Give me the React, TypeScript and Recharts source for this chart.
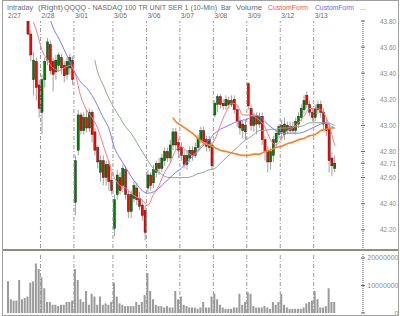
import { ComposedChart, Bar, Line, XAxis, YAxis, ReferenceLine } from 'recharts';

const W = 400;
const AXIS_X = 363;
const FONT = 'Liberation Sans, Arial, sans-serif';

// trading days and the bar index where each one starts (10-min bars, thinned)
const dayLabels = ['2/27', '2/28', '3/01', '3/05', '3/06', '3/07', '3/08', '3/09', '3/12', '3/13'];
const dayStarts = [0, 12, 24, 38, 50, 62, 74, 86, 98, 110];

// the first bars of 2/27 traded above the top of the price scale: only their volume shows
const hiddenBars = 7;

const opens = [
  43.81, 43.7, 43.35, 43.49, 43.31,
  43.1, 43.35, 43.5, 43.62, 43.49, 43.41, 43.46, 43.52, 43.46, 43.39, 43.44, 43.5,
  42.41, 42.81, 43.08, 42.96, 43.06, 42.98, 43.1, 42.95, 42.83, 42.64, 42.73, 42.6, 42.7, 42.58,
  42.21, 42.47, 42.6, 42.54, 42.66, 42.47, 42.34, 42.44, 42.52, 42.44, 42.39, 42.35,
  42.52, 42.62, 42.56, 42.64, 42.71, 42.67, 42.73, 42.8, 42.75, 42.85, 42.95, 42.87,
  42.83, 42.77, 42.7, 42.75, 42.81, 42.77, 42.83, 42.89, 42.96, 42.89, 42.83, 42.85,
  43.08, 43.16, 43.22, 43.17, 43.15, 43.19, 43.16, 43.2, 43.12, 43.03, 42.96, 43.0,
  43.32, 43.13, 43.0, 43.07, 43.01, 43.07, 42.89, 42.81, 42.72, 42.77, 42.87, 42.93,
  43.0, 42.93, 43.0, 42.96, 42.99, 42.96, 43.01, 43.06, 43.12, 43.23, 43.16, 43.1,
  43.06, 43.12, 43.16, 43.1, 43.01, 42.98, 42.75, 42.67,
];
const highs = [
  43.82, 43.73, 43.56, 43.52, 43.35,
  43.39, 43.52, 43.67, 43.65, 43.52, 43.54, 43.56, 43.55, 43.49, 43.52, 43.55, 43.53,
  42.77, 43.12, 43.1, 43.1, 43.12, 43.13, 43.12, 42.98, 42.85, 42.77, 42.77, 42.73, 42.73, 42.64,
  42.47, 42.66, 42.64, 42.7, 42.69, 42.5, 42.5, 42.57, 42.56, 42.49, 42.43, 42.39,
  42.66, 42.64, 42.7, 42.73, 42.75, 42.78, 42.83, 42.83, 42.89, 42.98, 42.98, 42.9,
  42.87, 42.81, 42.81, 42.84, 42.84, 42.87, 42.93, 42.99, 42.99, 42.92, 42.92, 42.87,
  43.19, 43.24, 43.24, 43.2, 43.23, 43.22, 43.23, 43.23, 43.15, 43.07, 43.04, 43.04,
  43.33, 43.16, 43.1, 43.1, 43.1, 43.1, 42.92, 42.84, 42.83, 42.92, 42.96, 43.01,
  43.04, 43.06, 43.03, 43.03, 43.03, 43.06, 43.1, 43.16, 43.23, 43.26, 43.19, 43.13,
  43.16, 43.19, 43.19, 43.13, 43.06, 43.0, 42.8, 42.77,
];
const lows = [
  43.69, 43.49, 43.23, 43.19, 43.06,
  42.93, 43.29, 43.46, 43.39, 43.26, 43.35, 43.41, 43.39, 43.33, 43.35, 43.39, 43.31,
  42.31, 42.77, 42.93, 42.93, 42.95, 42.95, 42.87, 42.77, 42.67, 42.57, 42.54, 42.54, 42.5, 42.47,
  42.15, 42.43, 42.47, 42.49, 42.43, 42.29, 42.29, 42.41, 42.39, 42.35, 42.27, 42.12,
  42.49, 42.5, 42.52, 42.6, 42.62, 42.64, 42.69, 42.72, 42.72, 42.81, 42.81, 42.75,
  42.73, 42.67, 42.66, 42.72, 42.73, 42.75, 42.8, 42.86, 42.84, 42.8, 42.8, 42.66,
  43.06, 43.1, 43.13, 43.12, 43.12, 43.13, 43.14, 43.09, 42.99, 42.93, 42.9, 42.89,
  43.12, 42.96, 42.95, 42.93, 42.98, 42.85, 42.73, 42.64, 42.66, 42.72, 42.83, 42.9,
  42.89, 42.89, 42.93, 42.94, 42.94, 42.93, 42.98, 43.03, 43.09, 43.13, 43.07, 43.03,
  43.03, 43.09, 43.06, 42.96, 42.92, 42.64, 42.61, 42.64,
];
const closes = [
  43.7, 43.54, 43.5, 43.29, 43.13,
  43.35, 43.49, 43.64, 43.42, 43.39, 43.5, 43.54, 43.44, 43.38, 43.49, 43.52, 43.35,
  42.73, 43.08, 42.96, 43.06, 42.98, 43.1, 42.93, 42.81, 42.72, 42.73, 42.6, 42.7, 42.57, 42.5,
  42.43, 42.62, 42.5, 42.67, 42.47, 42.34, 42.47, 42.54, 42.43, 42.38, 42.31, 42.18,
  42.62, 42.54, 42.66, 42.71, 42.67, 42.75, 42.8, 42.75, 42.85, 42.95, 42.85, 42.81,
  42.77, 42.7, 42.77, 42.81, 42.77, 42.83, 42.9, 42.96, 42.87, 42.84, 42.89, 42.69,
  43.17, 43.22, 43.16, 43.15, 43.2, 43.16, 43.19, 43.12, 43.03, 42.98, 43.01, 42.95,
  43.15, 43.0, 43.07, 43.01, 43.07, 42.89, 42.8, 42.72, 42.8, 42.89, 42.94, 42.99,
  42.95, 43.01, 42.96, 42.99, 42.96, 43.03, 43.07, 43.13, 43.19, 43.16, 43.1, 43.06,
  43.13, 43.16, 43.1, 43.01, 42.96, 42.73, 42.69, 42.71,
];

// volume in millions of shares, one value per bar (including the hidden ones)
const volumeM = [
  11.5, 5, 4.5, 4.5, 12, 5, 5.5, 6, 11, 11.5, 18, 16,
  13, 9, 4, 4, 3, 3, 2.5, 3, 3, 4, 4, 4.5,
  16, 12, 5, 4, 8, 3, 7, 6, 3, 6, 3, 3.5, 3, 4,
  11, 6, 3.5, 3, 2.5, 2.5, 2.5, 2.5, 4, 3, 4, 6.5,
  14.5, 8, 5, 3, 2.5, 2.5, 2, 2.5, 2, 2, 8, 5,
  6, 3, 2.5, 2, 2, 2, 1.5, 2, 4, 2, 2, 6,
  7, 5, 3, 2, 1.5, 1.5, 1.5, 2, 2, 7, 3, 4,
  7.5, 7, 2.5, 2, 2, 2, 2.5, 2, 1.5, 4, 3, 4,
  7, 3, 2, 1.5, 1.5, 1.5, 1.5, 1.5, 2, 3.5, 4, 4.5,
  8, 5, 2, 2, 2.5, 9, 4, 4,
];

// CustomForm overlays, [bar index, price]
const redForm: [number, number][] = [
  [9, 43.79], [10, 43.73], [12, 43.58], [14, 43.5], [16, 43.44], [18, 43.42], [20, 43.44], [22, 43.46],
  [24, 43.39], [26, 43.22], [28, 43.12], [30, 43.06], [32, 42.98], [34, 42.85], [36, 42.72], [38, 42.6],
  [40, 42.54], [42, 42.52], [44, 42.48], [46, 42.45], [48, 42.43], [50, 42.39], [52, 42.47], [54, 42.54],
  [56, 42.64], [58, 42.71], [60, 42.81], [62, 42.84], [64, 42.8], [66, 42.77], [68, 42.81], [70, 42.86],
  [72, 42.85], [74, 42.89], [76, 43.0], [78, 43.1], [80, 43.17], [82, 43.16], [84, 43.08], [86, 43.08],
  [88, 43.07], [90, 43.04], [92, 42.99], [94, 42.89], [96, 42.85], [98, 42.9], [100, 42.96], [102, 42.98],
  [104, 43.02], [106, 43.07], [108, 43.13], [110, 43.13], [112, 43.12], [114, 43.06], [116, 42.93], [117, 42.85],
];
const blueForm: [number, number][] = [
  [15, 43.81], [16, 43.75], [18, 43.67], [20, 43.58], [22, 43.49], [24, 43.4], [26, 43.33], [28, 43.29],
  [30, 43.23], [32, 43.15], [34, 43.06], [36, 42.98], [38, 42.83], [40, 42.75], [42, 42.68], [44, 42.61],
  [46, 42.55], [48, 42.5], [50, 42.48], [52, 42.49], [54, 42.52], [56, 42.56], [58, 42.6], [60, 42.64],
  [62, 42.67], [64, 42.72], [66, 42.76], [68, 42.8], [70, 42.85], [72, 42.89], [74, 42.94], [76, 42.97],
  [78, 42.99], [80, 43.01], [82, 43.03], [84, 43.04], [86, 43.05], [88, 43.08], [90, 43.07], [92, 43.03],
  [94, 42.99], [96, 42.96], [98, 42.94], [100, 42.94], [102, 42.94], [104, 42.94], [106, 42.95], [108, 42.97],
  [110, 42.99], [112, 43.01], [114, 43.02], [116, 42.99], [117, 42.98],
];
const grayForm: [number, number][] = [
  [31, 43.5], [32, 43.41], [34, 43.31], [36, 43.21], [38, 43.13], [40, 43.06], [42, 42.99], [44, 42.94],
  [46, 42.87], [48, 42.8], [50, 42.73], [52, 42.67], [54, 42.64], [56, 42.61], [58, 42.6], [60, 42.6],
  [62, 42.6], [64, 42.6], [66, 42.61], [68, 42.63], [70, 42.64], [72, 42.66], [74, 42.67], [76, 42.71],
  [78, 42.75], [80, 42.79], [82, 42.83], [84, 42.87], [86, 42.9], [88, 42.93], [90, 42.96], [92, 42.96],
  [94, 42.97], [96, 42.97], [98, 42.98], [100, 42.98], [102, 42.99], [104, 42.99], [106, 43.0], [108, 43.02],
  [110, 43.02], [112, 43.02], [114, 43.02], [116, 43.01], [117, 43.0],
];
const orangeForm: [number, number][] = [
  [59, 43.06], [60, 43.03], [62, 43.0], [64, 42.97], [66, 42.94], [68, 42.9], [70, 42.87], [72, 42.85],
  [74, 42.83], [76, 42.81], [78, 42.8], [80, 42.79], [82, 42.78], [84, 42.77], [86, 42.77], [88, 42.78],
  [90, 42.78], [92, 42.8], [94, 42.81], [96, 42.83], [98, 42.84], [100, 42.86], [102, 42.87], [104, 42.89],
  [106, 42.9], [108, 42.92], [110, 42.93], [112, 42.96], [114, 42.97], [116, 42.98], [117, 42.98],
];

const priceTicks = [42.2, 42.4, 42.6, 42.71, 42.8, 43.0, 43.2, 43.4, 43.6, 43.8];
const volumeTicks = [0, 10, 20];

const red = new Map(redForm);
const blue = new Map(blueForm);
const gray = new Map(grayForm);
const orange = new Map(orangeForm);

const rows = volumeM.map((vol, i) => {
  const k = i - hiddenBars;
  const has = k >= 0;
  return {
    i,
    vol,
    open: has ? opens[k] : null,
    high: has ? highs[k] : null,
    low: has ? lows[k] : null,
    close: has ? closes[k] : null,
    range: has ? [lows[k], highs[k]] : null,
    red: red.get(i) ?? null,
    blue: blue.get(i) ?? null,
    gray: gray.get(i) ?? null,
    orange: orange.get(i) ?? null,
  };
});

function Candle(props: any) {
  const { x, y, width, height, payload } = props;
  if (!payload || payload.open == null || height == null) return null;
  const top = Math.min(y, y + height);
  const span = Math.abs(height);
  const { open, close, high, low } = payload;
  const toY = (v: number) => (high === low ? top : top + ((high - v) / (high - low)) * span);
  const cx = x + width / 2;
  const bTop = toY(Math.max(open, close));
  const bBot = toY(Math.min(open, close));
  return (
    <g>
      <line x1={cx} x2={cx} y1={top} y2={top + span} stroke="#a0a0a0" strokeWidth={1} />
      <rect
        x={cx - 1.1}
        y={bTop}
        width={2.2}
        height={Math.max(1, bBot - bTop)}
        fill={close >= open ? '#008000' : '#ff0000'}
        stroke="#1a1a1a"
        strokeWidth={0.4}
      />
    </g>
  );
}

function DayLabel(props: any) {
  const { viewBox, text } = props;
  if (!viewBox) return null;
  return (
    <text x={viewBox.x + 1} y={viewBox.y - 3.5} fontSize={7.5} fill="#6a6a6a" fontFamily={FONT} textLength={13} lengthAdjust="spacingAndGlyphs">
      {text}
    </text>
  );
}

function VolTick(props: any) {
  const { y, payload } = props;
  const label = String(Math.round(payload.value * 1000000));
  const len = label.length * 3.9;
  return (
    <g>
      <line x1={AXIS_X - 2} x2={AXIS_X + 2} y1={y} y2={y} stroke="#666" />
      <text x={W - 1.5 - len} y={y} dy={2.5} fontSize={7} fill="#8c8c8c" fontFamily={FONT} textLength={len} lengthAdjust="spacingAndGlyphs">
        {label}
      </text>
    </g>
  );
}

function PriceTick(props: any) {
  const { y, payload } = props;
  return (
    <g>
      <line x1={AXIS_X - 2} x2={AXIS_X + 2} y1={y} y2={y} stroke="#666" />
      <text x={380} y={y} dy={2.5} fontSize={7} fill="#8c8c8c" fontFamily={FONT} textLength={16} lengthAdjust="spacingAndGlyphs">
        {payload.value.toFixed(2)}
      </text>
    </g>
  );
}

const xAxis = <XAxis dataKey="i" hide padding={{ left: 0, right: 27 }} />;

export default function App() {
  return (
    <div style={{ position: 'relative', width: W, height: 316, background: '#fff', overflow: 'hidden' }}>
      <style>{'body{margin:0}'}</style>
      <div style={{ position: 'absolute', left: 0, top: 0 }}>
        <ComposedChart width={W} height={250} data={rows} margin={{ top: 21, right: 0, bottom: 2, left: 7 }} barCategoryGap={0} barGap={0}>
          {xAxis}
          <YAxis
            orientation="right"
            width={37}
            type="number"
            domain={[42.0605, 43.8]}
            allowDataOverflow
            ticks={priceTicks}
            interval={0}
            tickLine={false}
            axisLine={{ stroke: '#555', strokeDasharray: '1 1' }}
            tick={<PriceTick />}
          />
          {dayStarts.map((s, d) => (
            <ReferenceLine
              key={s}
              x={s}
              position="start"
              stroke="#9a9a9a"
              strokeOpacity={d === 0 ? 0 : 1}
              strokeDasharray="4 2 1 2"
              label={<DayLabel text={dayLabels[d]} />}
            />
          ))}
          <Bar dataKey="range" shape={<Candle />} isAnimationActive={false} />
          <Line dataKey="gray" type="monotone" stroke="#8fa88f" strokeWidth={1} dot={false} connectNulls isAnimationActive={false} />
          <Line dataKey="blue" type="monotone" stroke="#7b7bff" strokeWidth={1} dot={false} connectNulls isAnimationActive={false} />
          <Line dataKey="red" type="monotone" stroke="#ff7a7a" strokeWidth={1} dot={false} connectNulls isAnimationActive={false} />
          <Line dataKey="orange" type="monotone" stroke="#ff7f1e" strokeWidth={1.6} dot={false} connectNulls isAnimationActive={false} />
        </ComposedChart>
      </div>
      <div style={{ position: 'absolute', left: 0, top: 252 }}>
        <ComposedChart width={W} height={64} data={rows} margin={{ top: 2, right: 0, bottom: 3, left: 7 }} barCategoryGap={0} barGap={0}>
          {xAxis}
          <YAxis
            orientation="right"
            width={37}
            type="number"
            domain={[0, 21.45]}
            ticks={volumeTicks}
            interval={0}
            tickLine={false}
            axisLine={{ stroke: '#555', strokeDasharray: '1 1' }}
            tick={<VolTick />}
          />
          {dayStarts.slice(1).map((s) => (
            <ReferenceLine key={s} x={s} position="start" stroke="#9a9a9a" strokeDasharray="4 2 1 2" />
          ))}
          <Bar dataKey="vol" fill="#9a9a9a" barSize={2} isAnimationActive={false} />
        </ComposedChart>
      </div>
      <svg width={W} height={316} style={{ position: 'absolute', left: 0, top: 0, pointerEvents: 'none' }}>
        <rect x={2.5} y={0.5} width={396} height={315} fill="none" stroke="#a0a0a0" />
        <line x1={3} x2={398} y1={250} y2={250} stroke="#8e8e84" strokeWidth={2} />
        <g fontFamily={FONT} fontSize={7} fill="#6a6a6a">
          <text x={7} y={9.5} textLength={26} lengthAdjust="spacingAndGlyphs">Intraday</text>
          <text x={38} y={9.5} textLength={25} lengthAdjust="spacingAndGlyphs">(Right)</text>
          <text x={64} y={9.5} textLength={153} lengthAdjust="spacingAndGlyphs">QQQQ - NASDAQ 100 TR UNIT SER 1 (10-Min)</text>
          <text x={221} y={9.5} textLength={10} lengthAdjust="spacingAndGlyphs">Bar</text>
          <text x={236} y={9.5} textLength={26} lengthAdjust="spacingAndGlyphs">Volume</text>
          <text x={268} y={9.5} textLength={40} lengthAdjust="spacingAndGlyphs" fill="#ff5050">CustomForm</text>
          <text x={315} y={9.5} textLength={39} lengthAdjust="spacingAndGlyphs" fill="#6a6aff">CustomForm</text>
          <text x={360} y={9.5}>...</text>
        </g>
      </svg>
    </div>
  );
}
